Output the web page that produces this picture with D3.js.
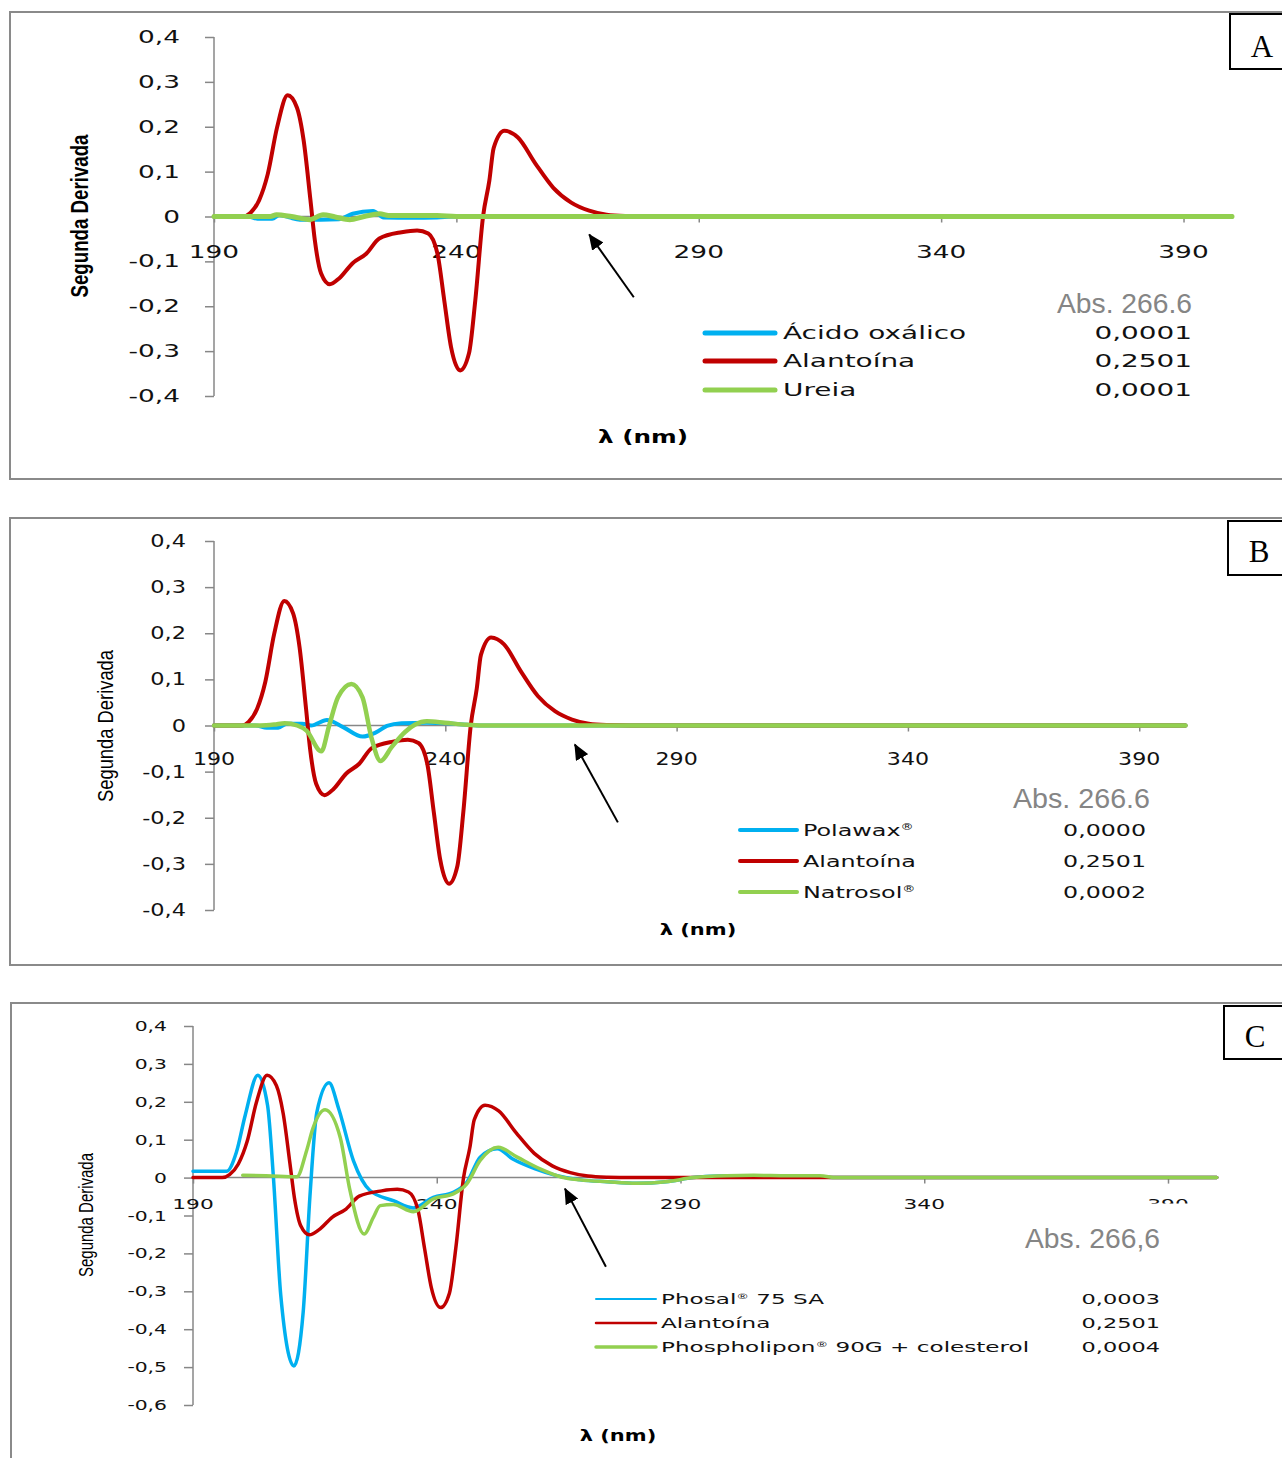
<!DOCTYPE html>
<html>
<head>
<meta charset="utf-8">
<script src="https://cdn.jsdelivr.net/npm/d3@7"></script>
<style>
  body { margin: 0; background: #fff; }
  svg { display: block; }
</style>
</head>
<body>
<svg id="fig" width="1282" height="1458"></svg>
<script>
// ---- Second-derivative spectra (wavelength in nm, value) ----
const alantoinaNm  = [190, 196, 197.5, 199.3, 201.1, 203, 205.2, 207.1, 208.5, 209.9, 210.8, 212.1, 213.9, 215.8, 218.6, 221.4, 224.1, 228.7, 231.9, 234.2, 236.1, 237.5, 238.9, 240.8, 242.6, 243.9, 245.5, 246.8, 247.7, 249.9, 252.7, 256.3, 260, 263.7, 267.4, 271, 275, 280, 400];
const alantoinaVal = [0, 0, 0.008, 0.036, 0.095, 0.198, 0.27, 0.243, 0.169, 0.036, -0.053, -0.127, -0.151, -0.138, -0.104, -0.083, -0.049, -0.035, -0.031, -0.038, -0.083, -0.187, -0.291, -0.343, -0.305, -0.187, 0, 0.08, 0.153, 0.191, 0.176, 0.118, 0.064, 0.031, 0.013, 0.004, 0.001, 0, 0];

const oxalicoNm  = [190, 197, 199, 202, 203.5, 205.5, 207.7, 212, 215.8, 218.6, 222.8, 225, 231, 236, 240, 400];
const oxalicoVal = [0, 0, -0.005, -0.005, 0.003, -0.002, -0.007, -0.007, -0.006, 0.006, 0.012, -0.002, -0.003, -0.002, 0, 0];

const ureiaNm  = [190, 201.6, 202.9, 206, 209.8, 212.5, 215, 218, 221, 224.2, 226, 236, 240, 400];
const ureiaVal = [0, 0, 0.004, 0, -0.007, 0.004, -0.001, -0.007, 0, 0.006, 0.002, 0.002, 0, 0];

const polawaxNm  = [190, 199, 201.4, 203.9, 205.7, 209.1, 211, 214.4, 218, 222.1, 225, 227.4, 230.5, 236, 240, 244.7, 248, 400];
const polawaxVal = [0, 0, -0.005, -0.005, 0.004, 0.004, 0, 0.012, -0.004, -0.024, -0.015, -0.001, 0.005, 0.006, 0.005, 0.0015, 0, 0];

const natrosolNm  = [190, 200, 203, 205.3, 208, 210, 213.2, 214.9, 216.8, 219.7, 222.1, 224, 226, 228.4, 231.3, 233.5, 236, 239.9, 244.6, 248, 400];
const natrosolVal = [0, 0, 0.002, 0.005, 0, -0.011, -0.056, 0, 0.061, 0.09, 0.061, -0.025, -0.077, -0.047, -0.014, 0.002, 0.009, 0.006, 0.0015, 0, 0];

const phosalNm  = [190, 196.9, 198.9, 200.7, 203.3, 205.3, 206.5, 208, 210.7, 212.6, 214, 215.4, 217.9, 219.9, 222.9, 226.3, 231.1, 235.2, 239.3, 243.4, 246.2, 248.9, 252.4, 255.6, 260.2, 264.7, 269.4, 275, 281, 287, 292.6, 298, 305, 312, 318, 322, 400];
const phosalVal = [0.017, 0.017, 0.067, 0.164, 0.27, 0.19, 0, -0.31, -0.497, -0.355, -0.047, 0.172, 0.25, 0.181, 0.045, -0.034, -0.061, -0.08, -0.052, -0.039, -0.012, 0.054, 0.076, 0.049, 0.023, 0.005, -0.006, -0.011, -0.015, -0.011, 0, 0.004, 0.005, 0.005, 0.003, 0, 0];

const phospholiponNm  = [200.2, 205, 211.3, 213.3, 214.6, 217.1, 220.2, 222.2, 225.1, 227, 228.4, 231.1, 235.2, 239.3, 243.4, 246.2, 248.9, 252.6, 256.5, 261.2, 265.7, 269.4, 275, 281, 287, 292.6, 299.5, 305, 312, 318.6, 322, 400];
const phospholiponVal = [0.006, 0.005, 0.002, 0.071, 0.13, 0.179, 0.106, -0.034, -0.149, -0.105, -0.074, -0.071, -0.09, -0.056, -0.043, -0.016, 0.045, 0.08, 0.054, 0.023, 0.001, -0.006, -0.011, -0.015, -0.011, 0, 0.005, 0.006, 0.005, 0.005, 0, 0];

// ---- Axis ticks ----
const xTickValues = [190, 240, 290, 340, 390];
const yTicksAB = [0.4, 0.3, 0.2, 0.1, 0, -0.1, -0.2, -0.3, -0.4];
const yTicksC  = [0.4, 0.3, 0.2, 0.1, 0, -0.1, -0.2, -0.3, -0.4, -0.5, -0.6];

// ---- Legend names and absorbance at 266.6 nm ----
const namesA = ["Ácido oxálico", "Alantoína", "Ureia"];
const absA   = ["0,0001", "0,2501", "0,0001"];
const namesB = ["Polawax®", "Alantoína", "Natrosol®"];
const absB   = ["0,0000", "0,2501", "0,0002"];
const namesC = ["Phosal® 75 SA", "Alantoína", "Phospholipon® 90G + colesterol"];
const absC   = ["0,0003", "0,2501", "0,0004"];
const absTitles = ["Abs. 266.6", "Abs. 266.6", "Abs. 266,6"];
const panelLetters = ["A", "B", "C"];
const markerNm = 266.6;

const BLUE = "#00B0F0", RED = "#C00000", GREEN = "#92D050";
const AXIS = "#878787";

const zip = (xs, ys) => xs.map((x, i) => [x, ys[i]]);
const fmt = d3.formatLocale({decimal: ",", thousands: ".", grouping: [3], currency: ["", ""], minus: "-"}).format(".1f");
const yLabelText = v => (v === 0 ? "0" : fmt(v));

const svg = d3.select("#fig");

svg.append("defs").append("marker")
  .attr("id", "arrowhead")
  .attr("markerUnits", "userSpaceOnUse")
  .attr("viewBox", "0 0 16 14")
  .attr("markerWidth", 16).attr("markerHeight", 14)
  .attr("refX", 15).attr("refY", 7)
  .attr("orient", "auto")
  .append("path").attr("d", "M0,0 L16,7 L0,14 Z").attr("fill", "#000");

// widen text horizontally by factor k (or to a fixed length)
function stretch(sel, k) {
  sel.each(function () {
    const w = this.getComputedTextLength();
    this.setAttribute("textLength", (w * k).toFixed(1));
    this.setAttribute("lengthAdjust", "spacingAndGlyphs");
  });
}
function fitTo(sel, w) {
  sel.attr("textLength", w).attr("lengthAdjust", "spacingAndGlyphs");
}

// label text with raised ® marks
function richLabel(textSel, name, shift) {
  const parts = name.split("®");
  parts.forEach((p, i) => {
    const t = textSel.append("tspan").text(p);
    if (i > 0) t.attr("dy", shift);
    if (i < parts.length - 1) {
      textSel.append("tspan").text("®").attr("font-size", "0.55em").attr("dy", -shift);
    }
  });
}

const panels = [
  {
    frame: {x: 10, y: 12, h: 467},
    box: {x: 1230, y: 14, h: 55, cx: 1262, base: 57},
    xRange: [214, 1232], yRange: [396, 37], yDomain: [-0.4, 0.4], yTicks: yTicksAB,
    series: [
      {name: namesA[0], color: BLUE,  w: 4,   data: zip(oxalicoNm, oxalicoVal)},
      {name: namesA[1], color: RED,   w: 4,   data: zip(alantoinaNm, alantoinaVal)},
      {name: namesA[2], color: GREEN, w: 5,   data: zip(ureiaNm, ureiaVal)}
    ],
    abs: absA, absTitle: absTitles[0], letter: panelLetters[0],
    tickFont: 17, yTickRight: 180, yTickK: 1.55, xTickDy: 41.5, xTickK: 1.55,
    legend: {x0: 705, x1: 775, rows: [333, 361, 390], tx: 783, font: 18, k: 1.55, vRight: 1192, vk: 1.55, lw: [5, 5, 5], sup: 6},
    absPos: {right: 1192, base: 313, w: 135},
    xLabel: {cx: 643, base: 443, font: 17, k: 1.45},
    yLabel: {cx: 80, cy: 216, font: 24, len: 163, weight: "bold"},
    arrow: {head: [markerNm + 0.8, -0.04], tail: [markerNm + 10, -0.18]}
  },
  {
    frame: {x: 10, y: 518, h: 447},
    box: {x: 1228, y: 521, h: 54, cx: 1259, base: 562},
    xRange: [214, 1185.5], yRange: [910, 541], yDomain: [-0.4, 0.4], yTicks: yTicksAB,
    series: [
      {name: namesB[0], color: BLUE,  w: 4,   data: zip(polawaxNm, polawaxVal)},
      {name: namesB[1], color: RED,   w: 4,   data: zip(alantoinaNm, alantoinaVal)},
      {name: namesB[2], color: GREEN, w: 4.5, data: zip(natrosolNm, natrosolVal)}
    ],
    abs: absB, absTitle: absTitles[1], letter: panelLetters[1],
    tickFont: 17, yTickRight: 186, yTickK: 1.32, xTickDy: 39.5, xTickK: 1.3,
    legend: {x0: 740, x1: 797, rows: [830, 861, 892], tx: 803, font: 16, k: 1.49, vRight: 1146, vk: 1.48, lw: [4, 4, 4], sup: 6},
    absPos: {right: 1150, base: 808, w: 137},
    xLabel: {cx: 698, base: 935, font: 15, k: 1.4},
    yLabel: {cx: 105, cy: 726, font: 22, len: 152, weight: "normal"},
    arrow: {head: [markerNm + 1.4, -0.041], tail: [markerNm + 10.7, -0.21]}
  },
  {
    frame: {x: 11, y: 1003, h: 470},
    box: {x: 1224, y: 1006, h: 53, cx: 1255, base: 1047},
    xRange: [193, 1216.75], yRange: [1405, 1026], yDomain: [-0.6, 0.4], yTicks: yTicksC,
    series: [
      {name: namesC[0], color: BLUE,  w: 3.5, data: zip(phosalNm, phosalVal)},
      {name: namesC[1], color: RED,   w: 3.5, data: zip(alantoinaNm, alantoinaVal)},
      {name: namesC[2], color: GREEN, w: 3.5, data: zip(phospholiponNm, phospholiponVal)}
    ],
    abs: absC, absTitle: absTitles[2], letter: panelLetters[2],
    tickFont: 14, yTickRight: 167, yTickK: 1.45, xTickDy: 31, xTickK: 1.55, clipLastX: true,
    legend: {x0: 596, x1: 656, rows: [1299, 1323, 1347], tx: 661, font: 14, k: 1.65, vRight: 1160, vk: 1.6, lw: [2, 2.5, 3.5], sup: 5},
    absPos: {right: 1160, base: 1248, w: 135},
    xLabel: {cx: 618, base: 1441, font: 15, k: 1.4},
    yLabel: {cx: 86, cy: 1215, font: 21, len: 124, weight: "normal"},
    arrow: {head: [markerNm - 0.3, -0.029], tail: [markerNm + 8.1, -0.235]}
  }
];

panels.forEach((p, pi) => {
  const g = svg.append("g").attr("class", "panel-" + p.letter);

  // outer frame and panel letter box
  g.append("rect").attr("x", p.frame.x).attr("y", p.frame.y)
    .attr("width", 1300).attr("height", p.frame.h)
    .attr("fill", "none").attr("stroke", "#8a8a8a").attr("stroke-width", 2);
  g.append("rect").attr("x", p.box.x).attr("y", p.box.y)
    .attr("width", 80).attr("height", p.box.h)
    .attr("fill", "#fff").attr("stroke", "#000").attr("stroke-width", 2);
  g.append("text").attr("x", p.box.cx).attr("y", p.box.base)
    .attr("text-anchor", "middle").attr("font-family", "Liberation Serif, serif")
    .attr("font-size", 31).attr("fill", "#000").text(p.letter);

  const x = d3.scaleLinear().domain([190, 400]).range(p.xRange);
  const y = d3.scaleLinear().domain(p.yDomain).range(p.yRange);
  const y0 = y(0);

  // y axis
  const yAxis = d3.axisLeft(y).tickValues(p.yTicks).tickSize(9).tickFormat("");
  const ya = g.append("g").attr("transform", `translate(${x(190)},0)`).call(yAxis);
  ya.select(".domain").attr("stroke", AXIS).attr("stroke-width", 1.5).attr("d", `M0,${y(p.yDomain[1])}V${y(p.yDomain[0])}`);
  ya.selectAll(".tick line").attr("stroke", AXIS).attr("stroke-width", 1.5);

  // x axis along zero
  const xAxis = d3.axisBottom(x).tickValues(xTickValues).tickSize(6).tickFormat("");
  const xa = g.append("g").attr("transform", `translate(0,${y0})`).call(xAxis);
  xa.select(".domain").attr("stroke", AXIS).attr("stroke-width", 1.5).attr("d", `M${x(190)},0H${x(400)}`);
  xa.selectAll(".tick line").attr("stroke", AXIS).attr("stroke-width", 1.5);

  // tick labels
  const ytl = g.append("g").selectAll("text").data(p.yTicks).join("text")
    .attr("x", p.yTickRight).attr("y", d => y(d)).attr("dy", "0.36em")
    .attr("text-anchor", "end").attr("font-family", "DejaVu Sans, sans-serif")
    .attr("font-size", p.tickFont).attr("fill", "#111").text(yLabelText);
  stretch(ytl, p.yTickK);

  let clipId = null;
  if (p.clipLastX) {
    clipId = "clip-x-" + pi;
    svg.select("defs").append("clipPath").attr("id", clipId)
      .append("rect").attr("x", 0).attr("y", 0).attr("width", 1282).attr("height", y0 + p.xTickDy - 5);
  }
  const xtl = g.append("g").selectAll("text").data(xTickValues).join("text")
    .attr("x", d => x(d)).attr("y", y0 + p.xTickDy)
    .attr("text-anchor", "middle").attr("font-family", "DejaVu Sans, sans-serif")
    .attr("font-size", p.tickFont).attr("fill", "#111").text(d => d);
  if (clipId) xtl.filter(d => d === 390).attr("clip-path", `url(#${clipId})`);
  stretch(xtl, p.xTickK);

  // spectra
  const line = d3.line().x(d => x(d[0])).y(d => y(d[1])).curve(d3.curveMonotoneX);
  g.append("g").selectAll("path").data(p.series).join("path")
    .attr("d", s => line(s.data))
    .attr("fill", "none").attr("stroke", s => s.color).attr("stroke-width", s => s.w)
    .attr("stroke-linejoin", "round").attr("stroke-linecap", "round");

  // arrow marking 266.6 nm
  g.append("line")
    .attr("x1", x(p.arrow.tail[0])).attr("y1", y(p.arrow.tail[1]))
    .attr("x2", x(p.arrow.head[0])).attr("y2", y(p.arrow.head[1]))
    .attr("stroke", "#000").attr("stroke-width", 2).attr("marker-end", "url(#arrowhead)");

  // axis titles
  const xt = g.append("text").attr("x", p.xLabel.cx).attr("y", p.xLabel.base)
    .attr("text-anchor", "middle").attr("font-family", "DejaVu Sans, sans-serif")
    .attr("font-weight", "bold").attr("font-size", p.xLabel.font).attr("fill", "#000").text("λ (nm)");
  stretch(xt, p.xLabel.k);

  const yt = g.append("text")
    .attr("transform", `translate(${p.yLabel.cx},${p.yLabel.cy}) rotate(-90)`)
    .attr("dy", "0.35em").attr("text-anchor", "middle")
    .attr("font-family", "Liberation Sans Narrow, Liberation Sans, sans-serif")
    .attr("font-weight", p.yLabel.weight).attr("font-size", p.yLabel.font).attr("fill", "#000")
    .text("Segunda Derivada");
  fitTo(yt, p.yLabel.len);

  // legend
  const L = p.legend;
  const lg = g.append("g");
  p.series.forEach((s, i) => {
    const ry = L.rows[i];
    lg.append("line").attr("x1", L.x0).attr("x2", L.x1).attr("y1", ry).attr("y2", ry)
      .attr("stroke", s.color).attr("stroke-width", L.lw[i]).attr("stroke-linecap", "round");
    const t = lg.append("text").attr("x", L.tx).attr("y", ry).attr("dy", "0.36em")
      .attr("font-family", "DejaVu Sans, sans-serif").attr("font-size", L.font).attr("fill", "#111");
    richLabel(t, s.name, L.sup);
    stretch(t, L.k);
    const v = lg.append("text").attr("x", L.vRight).attr("y", ry).attr("dy", "0.36em")
      .attr("text-anchor", "end").attr("font-family", "DejaVu Sans, sans-serif")
      .attr("font-size", L.font).attr("fill", "#111").text(p.abs[i]);
    stretch(v, L.vk);
  });
  const at = lg.append("text").attr("x", p.absPos.right).attr("y", p.absPos.base)
    .attr("text-anchor", "end").attr("font-family", "Liberation Sans Narrow, Liberation Sans, sans-serif")
    .attr("font-size", 28).attr("fill", "#858585").text(p.absTitle);
  fitTo(at, p.absPos.w);
});
</script>
</body>
</html>
